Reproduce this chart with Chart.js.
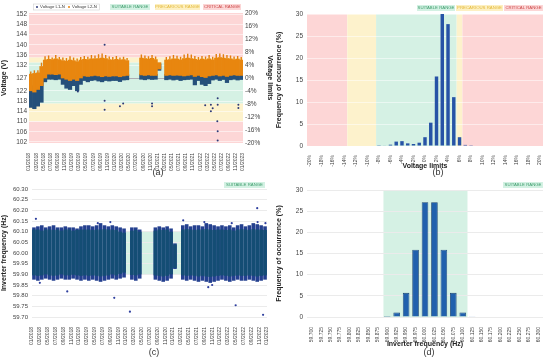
<!DOCTYPE html>
<html>
<head>
<meta charset="utf-8">
<script src="https://cdn.jsdelivr.net/npm/chart.js@4.4.1/dist/chart.umd.min.js"></script>
<style>
  body { margin: 0; background: #fff; width: 550px; height: 361px; position: relative; overflow: hidden; font-family: "Liberation Sans", Arial, sans-serif; }
  .box { position: absolute; }
  .cap { position: absolute; font-size: 9px; color: #333; transform: translateX(-50%); }
</style>
</head>
<body>
<div class="box" style="left:0;top:0;width:275px;height:173px"><canvas id="ca"></canvas></div>
<div class="box" style="left:275px;top:0;width:275px;height:170px"><canvas id="cb"></canvas></div>
<div class="box" style="left:0;top:180px;width:275px;height:168px"><canvas id="cc"></canvas></div>
<div class="box" style="left:275px;top:180px;width:275px;height:168px"><canvas id="cd"></canvas></div>
<div class="cap" style="left:158px;top:167px">(a)</div>
<div class="cap" style="left:438px;top:167px">(b)</div>
<div class="cap" style="left:154px;top:347px">(c)</div>
<div class="cap" style="left:429px;top:347px">(d)</div>
<script>
// tick labels (every 2 months, 01/2018 .. 01/2023)
const tickMonths = ['01/2018','03/2018','05/2018','07/2018','09/2018','11/2018',
  '01/2019','03/2019','05/2019','07/2019','09/2019','11/2019',
  '01/2020','03/2020','05/2020','07/2020','09/2020','11/2020',
  '01/2021','03/2021','05/2021','07/2021','09/2021','11/2021',
  '01/2022','03/2022','05/2022','07/2022','09/2022','11/2022','01/2023'];
const voltTicks = [102, 106, 110, 114, 118, 122, 127, 132, 136, 140, 144, 148, 152];

// (a) monthly envelopes, 01/2018 .. 12/2022 (volts)
const l2Peak = [129.5,130,130,133,135.5,135.8,135,136,135.2,135,134.8,135.5,
  135,134.6,135.2,135.6,135.3,136,135.8,136.3,136.6,136,135.4,135.2,
  135.6,135,135.3,134.8,null,null,null,136.2,135.8,135.5,136,135.4,
  null,null,135.2,135.5,136,135.7,135.3,136.2,136.5,136.2,135.6,135.2,
  135.6,135.4,136,135.3,136.4,136.6,136.3,136,135.8,135.4,135.6,135.2];
const l2High = [128.5,128.8,129,131.5,134,134.3,134.2,134.5,134.2,133.8,133.6,134,
  133.8,133.4,134,134.3,134.2,134.5,134.5,134.6,134.8,134.6,134.2,134,
  134.3,134,134.2,133.8,null,null,null,134.8,134.6,134.4,134.7,134.2,
  133,null,134,134.2,134.5,134.4,134.1,134.6,134.8,134.6,134.3,134,
  134.4,134.2,134.5,134.1,134.8,135,134.8,134.6,134.5,134.2,134.4,134];
const l2Low = [122,121.5,122.5,124,127,128.5,128.5,128.3,128.5,127,126.5,126,
  126.5,126,127,127.8,127.6,127.8,128,127.8,127.5,127.8,127.6,127.8,
  127.8,127.5,127.8,128,null,null,null,128.2,128,128.2,128,128,
  130.5,null,128,128.2,128,128.1,128,127.8,128,128.2,127.6,128,
  127.5,127.2,127.8,128,128.2,127.8,128,127.6,128,128.2,128,128];
const l1High = [124,123.5,124.5,126,129,128.8,128.8,128.6,128.8,128,127.5,127.5,
  127.5,127.8,128,128.2,128,128.2,128.3,128.2,128,128.2,128,128.2,
  128.2,128,128.2,128.3,null,null,null,128.5,128.4,128.5,128.3,128.4,
  132.5,null,128.4,128.5,128.3,128.4,128.2,128.3,128.4,128.5,128,128.2,
  128,127.8,128.2,128.3,128.4,128.2,128.3,128,128.3,128.4,128.3,128.4];
const l1Low = [115.5,115,116,117.5,125.5,126.5,126.5,126.3,126.5,124.5,123,122.5,
  124,122,124.5,126,125.5,126,126.2,125.8,125.5,126,125.8,126,
  126,125.6,126.2,126.3,null,null,null,126.5,126.3,126.6,126.4,126.5,
  130,null,126.3,126.5,126.2,126.4,126,126.3,126.4,126.5,124.3,126,
  124.5,124,124.8,126.2,126.5,126,126.4,125.2,126.3,126.5,126.2,126.4];
const l1Outliers = [[13.7,121.7],[21.2,140],[21.2,118.1],[21.2,114.6],[25.5,116],[26.4,117],
  [34.5,117],[34.5,116],[49.4,116.4],[51,116.5],[51,114],[51.5,115.2],[52.9,119.1],
  [52.9,116.5],[52.8,110.1],[52.9,106.2],[52.9,102.6],[58.7,116.5],[58.7,115.3]];

// (b) voltage deviation histogram
const pctLabels = ['-20%','-19%','-18%','-17%','-16%','-15%','-14%','-13%','-12%','-11%','-10%',
  '-9%','-8%','-7%','-6%','-5%','-4%','-3%','-2%','-1%','0%','1%','2%','3%','4%','5%','6%',
  '7%','8%','9%','10%','11%','12%','13%','14%','15%','16%','17%','18%','19%','20%'];
const pctFreq = [0,0,0,0,0,0,0,0,0,0,0,0,0.05,0.1,0.3,1.0,1.1,0.6,0.45,0.75,2.0,5.3,15.8,30,27.7,11.1,2.0,
  0.25,0.05,0,0,0,0,0,0,0,0,0,0,0,0];

// (c) monthly frequency envelopes (Hz)
const fMax = [60.12,60.125,60.13,60.12,60.125,60.13,60.12,60.12,60.125,60.12,60.12,60.115,
  60.125,60.13,60.13,60.125,60.13,60.14,60.13,60.125,60.13,60.125,60.12,60.115,
  null,60.12,60.12,60.11,null,null,null,60.12,60.125,60.12,60.125,60.115,
  60.045,null,60.13,60.135,60.125,60.13,60.13,60.125,60.14,60.135,60.13,60.125,
  60.13,60.125,60.13,60.12,60.13,60.135,60.125,60.13,60.14,60.135,60.13,60.125];
const fHigh = [60.11,60.11,60.105,60.11,60.11,60.108,60.11,60.105,60.11,60.11,60.105,60.108,
  60.11,60.11,60.11,60.108,60.11,60.11,60.112,60.11,60.11,60.108,60.1,60.095,
  null,60.105,60.108,60.1,null,null,null,60.105,60.11,60.108,60.11,60.1,
  60.04,null,60.11,60.112,60.11,60.108,60.11,60.11,60.112,60.11,60.108,60.11,
  60.11,60.108,60.11,60.105,60.11,60.112,60.11,60.108,60.112,60.11,60.11,60.108];
const fLow = [59.895,59.893,59.895,59.9,59.895,59.893,59.895,59.9,59.895,59.895,59.898,59.895,
  59.893,59.895,59.893,59.895,59.893,59.89,59.893,59.895,59.9,59.895,59.902,59.908,
  null,59.897,59.895,59.9,null,null,null,59.895,59.893,59.89,59.893,59.9,
  59.93,null,59.895,59.893,59.895,59.893,59.89,59.893,59.89,59.888,59.89,59.893,
  59.895,59.893,59.89,59.893,59.895,59.893,59.893,59.895,59.893,59.89,59.893,59.895];
const fMin = [59.875,59.87,59.875,59.88,59.875,59.87,59.875,59.88,59.875,59.875,59.88,59.875,
  59.87,59.875,59.87,59.875,59.87,59.865,59.87,59.875,59.88,59.875,59.88,59.885,
  null,59.875,59.87,59.88,null,null,null,59.875,59.87,59.865,59.87,59.88,
  59.925,null,59.875,59.87,59.875,59.87,59.865,59.87,59.865,59.86,59.865,59.87,
  59.875,59.87,59.865,59.87,59.875,59.87,59.87,59.875,59.87,59.865,59.87,59.875];
const fOutliers = [[1,60.16],[2,59.86],[9,59.82],[16.8,60.14],[20,60.145],[21,59.79],[25,59.725],
  [38.6,60.153],[44,60.145],[45,59.84],[46,59.85],[51,60.14],[52,59.755],[57.5,60.21],
  [57.6,60.145],[59,59.71],[59.6,60.14]];

// (d) inverter frequency histogram
const hzLabels = ['59.700','59.725','59.750','59.775','59.800','59.825','59.850','59.875','59.900',
  '59.925','59.950','59.975','60.000','60.025','60.050','60.075','60.100','60.125','60.150',
  '60.175','60.200','60.225','60.250','60.275','60.300'];
const hzFreq = [0,0,0,0,0,0,0,0,0.25,1.05,5.7,15.9,27.1,27.1,15.9,5.7,1.05,0.2,0,0,0,0,0,0,0];

const PINK = '#fdd6d6', YELLOW = '#fdf2cc', GREEN = '#d5f1e4';
const FONT = '"Liberation Sans", Arial, sans-serif';
Chart.defaults.font.family = FONT;
Chart.defaults.color = '#444';

function envelope(lo, hi) {
  const out = [];
  lo.forEach((v, i) => { if (v != null && hi[i] != null) out.push({x: i + 0.5, y: [v, hi[i]]}); });
  return out;
}
const pts = list => list.map(p => ({x: p[0], y: p[1]}));

const bandPlugin = {
  id: 'bands',
  beforeDraw(chart, args, o) {
    const {ctx, chartArea: a} = chart;
    const s = chart.scales[o.axis];
    ctx.save();
    ctx.beginPath(); ctx.rect(a.left, a.top, a.right - a.left, a.bottom - a.top); ctx.clip();
    (o.ranges || []).forEach(r => {
      const p1 = s.getPixelForValue(r[0]), p2 = s.getPixelForValue(r[1]);
      ctx.fillStyle = r[2];
      if (o.axis === 'x') ctx.fillRect(Math.min(p1, p2), a.top, Math.abs(p2 - p1), a.bottom - a.top);
      else ctx.fillRect(a.left, Math.min(p1, p2), a.right - a.left, Math.abs(p2 - p1));
    });
    (o.lines || []).forEach(v => {
      const y = Math.round(s.getPixelForValue(v)) + 0.5;
      ctx.strokeStyle = '#4a4a5a'; ctx.lineWidth = 1;
      ctx.beginPath(); ctx.moveTo(a.left, y); ctx.lineTo(a.right, y); ctx.stroke();
    });
    ctx.restore();
  }
};

const chipColors = {
  'SUITABLE RANGE': ['#d3f1e3', '#3f9d6d'],
  'PRECARIOUS RANGE': ['#fdf0c2', '#e3b93a'],
  'CRITICAL RANGE': ['#fcd6d6', '#cc4a4a']
};
const chipsPlugin = {
  id: 'chips',
  afterDraw(chart, args, o) {
    const ctx = chart.ctx;
    ctx.save();
    ctx.textAlign = 'center'; ctx.textBaseline = 'middle';
    (o.items || []).forEach(c => {
      const col = chipColors[c.text];
      ctx.fillStyle = col[0]; ctx.fillRect(c.x, c.y, c.w, c.h);
      ctx.fillStyle = col[1]; ctx.font = '4.3px ' + FONT;
      ctx.fillText(c.text, c.x + c.w / 2, c.y + c.h / 2 + 0.3);
    });
    if (o.legend) {
      const L = o.legend;
      ctx.fillStyle = '#fff'; ctx.fillRect(L.x, L.y, L.w, L.h);
      ctx.strokeStyle = '#cfcfcf'; ctx.lineWidth = 0.6; ctx.strokeRect(L.x + 0.5, L.y + 0.5, L.w - 1, L.h - 1);
      ctx.textAlign = 'left'; ctx.font = '4.3px ' + FONT;
      L.entries.forEach(e => {
        ctx.fillStyle = e.color;
        ctx.beginPath(); ctx.arc(e.x, L.y + L.h / 2, 1, 0, Math.PI * 2); ctx.fill();
        ctx.fillStyle = '#333'; ctx.fillText(e.text, e.x + 3, L.y + L.h / 2 + 0.3);
      });
    }
    ctx.restore();
  }
};

const titleFont = {size: 7, weight: 'bold'};

// (a) voltage time series
new Chart(document.getElementById('ca'), {
  type: 'bar',
  data: {
    datasets: [
      {data: envelope(l2High, l2Peak), backgroundColor: '#e37e0e', barPercentage: 0.4, categoryPercentage: 1, grouped: false, order: 4},
      {data: envelope(l2Low, l2High), backgroundColor: '#e8860f', barPercentage: 1, categoryPercentage: 1, grouped: false, order: 2},
      {data: envelope(l1Low, l1High), backgroundColor: '#25507a', barPercentage: 1, categoryPercentage: 1, grouped: false, order: 3},
      {type: 'scatter', data: pts(l1Outliers), backgroundColor: '#2d3a78', pointRadius: 1, borderWidth: 0, order: 0}
    ]
  },
  options: {
    responsive: true, maintainAspectRatio: false, animation: false,
    layout: {padding: {top: 13, right: 0, left: 0, bottom: 0}},
    plugins: {
      legend: {display: false}, tooltip: {enabled: false},
      bands: {axis: 'y', lines: [127], ranges: [[135, 152.4, PINK], [133, 135, YELLOW], [117, 133, GREEN], [110, 117, YELLOW], [101.6, 110, PINK]]},
      chips: {
        items: [
          {text: 'SUITABLE RANGE', x: 110, y: 4, w: 40, h: 6},
          {text: 'PRECARIOUS RANGE', x: 155, y: 4, w: 45, h: 6},
          {text: 'CRITICAL RANGE', x: 203, y: 4, w: 38, h: 6}
        ],
        legend: {x: 33, y: 3.5, w: 67, h: 7, entries: [
          {text: 'Voltage L1-N', color: '#2d3a78', x: 37},
          {text: 'Voltage L2-N', color: '#e8860f', x: 69}
        ]}
      }
    },
    scales: {
      x: {
        type: 'linear', min: 0, max: 60, offset: false,
        grid: {display: false, offset: false}, border: {display: false},
        ticks: {stepSize: 2, autoSkip: false, maxRotation: 90, minRotation: 90, padding: 2, font: {size: 5},
          callback: v => tickMonths[Math.round(v / 2)]},
        afterFit: s => { s.height = 30; }
      },
      y: {
        min: 101.6, max: 152.4,
        afterBuildTicks: a => { a.ticks = voltTicks.map(v => ({value: v})); },
        grid: {color: 'rgba(255,255,255,0.55)', drawTicks: false}, border: {display: false},
        ticks: {font: {size: 6.5}, padding: 2},
        title: {display: true, text: 'Voltage (V)', font: titleFont, color: '#222', padding: {top: 0, bottom: 1}},
        afterFit: s => { s.width = 29; }
      },
      y2: {
        position: 'right', min: -20, max: 20,
        grid: {display: false, drawTicks: false}, border: {display: false},
        ticks: {stepSize: 4, font: {size: 6.5}, padding: 2, callback: v => v + '%'},
        title: {display: true, text: 'Voltage limits', font: titleFont, color: '#222', padding: {top: 1, bottom: 0}},
        afterFit: s => { s.width = 32; }
      }
    }
  },
  plugins: [bandPlugin, chipsPlugin]
});

// (b) voltage histogram
new Chart(document.getElementById('cb'), {
  type: 'bar',
  data: {
    labels: pctLabels,
    datasets: [{data: pctFreq, backgroundColor: '#2753a6', barPercentage: 0.6, categoryPercentage: 1}]
  },
  options: {
    responsive: true, maintainAspectRatio: false, animation: false,
    layout: {padding: {top: 14, right: 7, left: 0, bottom: 0}},
    plugins: {
      legend: {display: false}, tooltip: {enabled: false},
      bands: {axis: 'x', ranges: [[-0.5, 6.5, PINK], [6.5, 11.5, YELLOW], [11.5, 25.5, GREEN], [25.5, 26.5, YELLOW], [26.5, 40.5, PINK]]},
      chips: {items: [
        {text: 'SUITABLE RANGE', x: 142, y: 5, w: 38, h: 6},
        {text: 'PRECARIOUS RANGE', x: 181, y: 5, w: 47, h: 6},
        {text: 'CRITICAL RANGE', x: 229, y: 5, w: 39, h: 6}
      ]}
    },
    scales: {
      x: {
        grid: {display: false}, border: {display: false},
        ticks: {autoSkip: false, maxRotation: 90, minRotation: 90, padding: 1, font: {size: 5},
          callback: (v, i) => (i % 2 ? '' : pctLabels[i])},
        title: {display: true, text: 'Voltage limits', font: titleFont, color: '#222', padding: {top: 0, bottom: 0}},
        afterFit: s => { s.height = 24; }
      },
      y: {
        min: 0, max: 30,
        grid: {color: 'rgba(255,255,255,0.5)', drawTicks: false}, border: {display: false},
        ticks: {stepSize: 5, font: {size: 6.5}, padding: 4},
        title: {display: true, text: 'Frequency of occurrence (%)', font: titleFont, color: '#222', padding: {top: 0, bottom: 2}},
        afterFit: s => { s.width = 32; }
      }
    }
  },
  plugins: [bandPlugin, chipsPlugin]
});

// (c) inverter frequency time series
new Chart(document.getElementById('cc'), {
  type: 'bar',
  data: {
    datasets: [
      {data: envelope(fLow, fHigh), backgroundColor: '#144d74', barPercentage: 0.92, categoryPercentage: 1, grouped: false, order: 1},
      {data: envelope(fMin, fMax), backgroundColor: '#24408f', barPercentage: 0.92, categoryPercentage: 1, grouped: false, order: 2},
      {type: 'scatter', data: pts(fOutliers), backgroundColor: '#2e3f9e', pointRadius: 1.1, borderWidth: 0, order: 0}
    ]
  },
  options: {
    responsive: true, maintainAspectRatio: false, animation: false,
    layout: {padding: {top: 9, right: 5, left: 0, bottom: 0}},
    plugins: {
      legend: {display: false}, tooltip: {enabled: false},
      bands: {axis: 'y', ranges: [[59.9, 60.1, GREEN]]},
      chips: {items: [{text: 'SUITABLE RANGE', x: 224, y: 2, w: 41, h: 6}]}
    },
    scales: {
      x: {
        type: 'linear', min: 0, max: 60, offset: false,
        grid: {display: false, offset: false}, border: {display: false},
        ticks: {stepSize: 2, autoSkip: false, maxRotation: 90, minRotation: 90, padding: 2, font: {size: 5},
          callback: v => tickMonths[Math.round(v / 2)]},
        afterFit: s => { s.height = 31; }
      },
      y: {
        min: 59.7, max: 60.3,
        grid: {color: '#ebebeb', drawTicks: false}, border: {display: false},
        ticks: {stepSize: 0.05, font: {size: 6}, padding: 4, callback: v => v.toFixed(2)},
        title: {display: true, text: 'Inverter frequency (Hz)', font: titleFont, color: '#222', padding: {top: 0, bottom: 1}},
        afterFit: s => { s.width = 32; }
      }
    }
  },
  plugins: [bandPlugin, chipsPlugin]
});

// (d) inverter frequency histogram
new Chart(document.getElementById('cd'), {
  type: 'bar',
  data: {
    labels: hzLabels,
    datasets: [{data: hzFreq, backgroundColor: '#2160ad', borderColor: '#173f70', borderWidth: 0.8, barPercentage: 0.7, categoryPercentage: 1}]
  },
  options: {
    responsive: true, maintainAspectRatio: false, animation: false,
    layout: {padding: {top: 10, right: 7, left: 0, bottom: 0}},
    plugins: {
      legend: {display: false}, tooltip: {enabled: false},
      bands: {axis: 'x', ranges: [[7.6, 16.5, GREEN]]},
      chips: {items: [{text: 'SUITABLE RANGE', x: 228, y: 2, w: 40, h: 6}]}
    },
    scales: {
      x: {
        grid: {display: false}, border: {display: false},
        ticks: {autoSkip: false, maxRotation: 90, minRotation: 90, padding: 2, font: {size: 5}},
        title: {display: true, text: 'Inverter frequency (Hz)', font: titleFont, color: '#222', padding: {top: 0, bottom: 0}},
        afterFit: s => { s.height = 31; }
      },
      y: {
        min: 0, max: 30,
        grid: {color: '#ebebeb', drawTicks: false}, border: {display: false},
        ticks: {stepSize: 5, font: {size: 6.5}, padding: 4},
        title: {display: true, text: 'Frequency of occurrence (%)', font: titleFont, color: '#222', padding: {top: 0, bottom: 2}},
        afterFit: s => { s.width = 32; }
      }
    }
  },
  plugins: [bandPlugin, chipsPlugin]
});
</script>
</body>
</html>
